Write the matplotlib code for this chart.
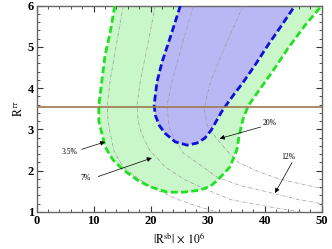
import matplotlib
matplotlib.use("Agg")
import matplotlib.pyplot as plt
from matplotlib.ticker import MultipleLocator

# outer (green) contour
green_x = [13.7, 12.9, 12.0, 11.5, 10.9, 10.9, 11.5, 12.0, 13.4, 15.2, 17.6, 19.9,
           22.9, 25.7, 28.7, 30.5, 31.8, 33.9, 35.1, 35.6, 36.2, 37.1, 38.8, 41.3,
           44.1, 47.1, 50.0]
green_y = [6.0, 5.36, 4.8, 4.25, 3.59, 3.2, 2.87, 2.58, 2.26, 2.02, 1.78, 1.61,
           1.48, 1.48, 1.53, 1.63, 1.78, 2.09, 2.5, 2.9, 3.25, 3.57, 3.91, 4.39,
           4.97, 5.53, 6.0]

# inner (blue) contour
blue_x = [25.2, 23.4, 22.0, 21.1, 20.6, 20.8, 21.5, 22.5, 24.3, 26.4, 28.1, 29.5,
          30.6, 31.5, 32.4, 33.4, 34.6, 36.0, 38.3, 40.6, 43.0, 45.3]
blue_y = [6.0, 5.22, 4.64, 4.15, 3.59, 3.35, 3.1, 2.91, 2.70, 2.62, 2.67, 2.79,
          2.98, 3.2, 3.42, 3.62, 3.85, 4.1, 4.56, 5.05, 5.53, 6.0]

# thin gray contours (3.5%, 7%, 12%, 20%)
c1_x = [15.2, 13.9, 12.9, 12.4, 12.5, 12.9, 13.5, 15.1, 18.1, 21.1, 24.8, 28.6, 31.6]
c1_y = [6.0, 5.0, 4.2, 3.6, 3.2, 2.9, 2.5, 2.1, 1.78, 1.53, 1.3, 1.12, 1.0]
c2_x = [20.8, 19.4, 18.2, 17.6, 17.8, 18.4, 19.8, 22.5, 26.0, 30.0, 34.0, 41.0, 46.5]
c2_y = [6.0, 5.0, 4.2, 3.6, 3.2, 2.9, 2.5, 2.1, 1.78, 1.53, 1.3, 1.12, 1.0]
c3_x = [27.5, 25.4, 23.8, 22.9, 23.1, 23.4, 25.7, 28.7, 31.6, 35.5, 41.5, 46.0, 50.0]
c3_y = [6.0, 5.0, 4.2, 3.6, 3.2, 2.99, 2.43, 2.14, 1.85, 1.65, 1.45, 1.3, 1.2]
c4_x = [36.2, 33.0, 30.6, 29.9, 29.4, 29.9, 31.5, 33.3, 35.3, 38.5, 42.5, 49.0, 50.5]
c4_y = [6.0, 5.0, 4.2, 3.84, 3.5, 3.1, 2.79, 2.5, 2.21, 2.0, 1.8, 1.6, 1.55]

r_tautau = 3.55

labels = ["3.5%", "7%", "20%", "12%"]
label_xy = [(5.8, 2.45), (8.6, 1.82), (40.8, 3.16), (44.2, 2.33)]
tail_xy = [(7.9, 2.52), (10.8, 1.86), (39.3, 3.06), (44.8, 2.2)]
tip_xy = [(12.0, 2.70), (20.2, 2.31), (32.1, 2.78), (41.8, 1.46)]

plt.rcParams["font.family"] = ["Liberation Serif", "DejaVu Serif"]
plt.rcParams["mathtext.fontset"] = "stix"

fig = plt.figure(figsize=(3.32, 2.49), dpi=100)
ax = fig.add_axes([0.1105, 0.1486, 0.8585, 0.8284])

ax.fill(green_x, green_y, color="#c9f7c9", lw=0, zorder=1)
ax.fill(blue_x, blue_y, color="#b8b8f5", lw=0, zorder=2)

for cx, cy in [(c1_x, c1_y), (c2_x, c2_y), (c3_x, c3_y), (c4_x, c4_y)]:
    ax.plot(cx, cy, color="#999999", lw=0.5, ls=(0, (5, 2, 1, 2)), zorder=3)

ax.plot(green_x, green_y, color="#22e022", lw=2, ls=(0, (2.5, 1.2)), zorder=4)
ax.plot(blue_x, blue_y, color="#1010d8", lw=2, ls=(0, (2.5, 1.2)), zorder=5)

ax.axhline(r_tautau, color="#a07850", lw=1.2, zorder=6)

for lab, lxy, txy, pxy in zip(labels, label_xy, tail_xy, tip_xy):
    ax.text(lxy[0], lxy[1], lab, fontsize=5.5, ha="center", va="center", zorder=7)
    ax.annotate("", xy=pxy, xytext=txy,
                arrowprops=dict(arrowstyle="-|>", lw=0.5, color="black",
                                mutation_scale=7, shrinkA=0, shrinkB=0),
                zorder=7)

ax.set_xlim(0, 50)
ax.set_ylim(1, 6)
ax.xaxis.set_major_locator(MultipleLocator(10))
ax.xaxis.set_minor_locator(MultipleLocator(2))
ax.yaxis.set_major_locator(MultipleLocator(1))
ax.yaxis.set_minor_locator(MultipleLocator(0.2))
ax.tick_params(which="both", direction="in", top=True, right=True, colors="#333333",
               labelcolor="black")
ax.tick_params(which="major", length=4, width=0.8, labelsize=9, pad=2)
ax.tick_params(which="minor", length=2, width=0.6)
for t in ax.get_xticklabels() + ax.get_yticklabels():
    t.set_fontweight("bold")
for s in ax.spines.values():
    s.set_color("#666666")
    s.set_linewidth(1.0)

ax.set_xlabel(r"$|\mathrm{R}^{\mathrm{sb}}|\,\times\,10^{6}$", fontsize=8.5, labelpad=3)
ax.set_ylabel(r"$\mathrm{R}^{\tau\tau}$", fontsize=8.5, labelpad=2)

fig.savefig("out.png", dpi=100)
